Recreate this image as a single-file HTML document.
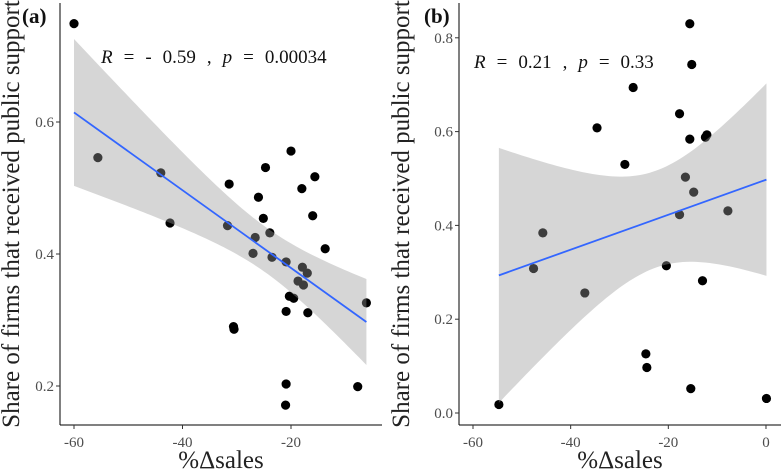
<!DOCTYPE html>
<html><head><meta charset="utf-8"><style>
body{margin:0;background:#fff}
svg text{font-family:"Liberation Serif",serif}
</style></head><body>
<svg id="c" width="781" height="471" viewBox="0 0 781 471" xmlns="http://www.w3.org/2000/svg"></svg>
<script>
const xa=[-60,-55.6,-44.0,-42.3,-31.4,-31.7,-30.6,-30.5,-24.7,-26.0,-25.1,-26.6,-27.0,-23.9,-23.5,-20.0,-20.9,-20.3,-19.5,-20.9,-20.9,-21.0,-18.0,-15.6,-16.0,-17.9,-17.0,-18.7,-17.7,-16.9,-13.7,-7.7,-6.1];
const ya=[0.749,0.546,0.523,0.447,0.506,0.443,0.290,0.286,0.531,0.486,0.454,0.425,0.401,0.432,0.395,0.556,0.388,0.336,0.333,0.313,0.203,0.171,0.499,0.517,0.458,0.380,0.371,0.359,0.353,0.311,0.408,0.199,0.326];
const xb=[-15.6,-15.2,-27.2,-17.7,-34.6,-15.6,-12.1,-12.4,-28.9,-16.5,-14.8,-17.7,-7.8,-45.7,-47.6,-37.1,-20.4,-13.0,-24.6,-24.4,-15.4,-54.7,0.1];
const yb=[0.830,0.743,0.694,0.638,0.608,0.584,0.593,0.588,0.530,0.503,0.471,0.423,0.431,0.384,0.308,0.256,0.314,0.282,0.126,0.097,0.052,0.018,0.031];
const xTicksA=[-60,-40,-20], yTicksA=[0.2,0.4,0.6];
const xTicksB=[-60,-40,-20,0], yTicksB=[0.0,0.2,0.4,0.6,0.8];
const labelA="R = - 0.59 , p = 0.00034", labelB="R = 0.21 , p = 0.33";
const NS="http://www.w3.org/2000/svg", svg=document.getElementById('c');
function mk(t,a,p){const e=document.createElementNS(NS,t);for(const k in a)e.setAttribute(k,a[k]);(p||svg).appendChild(e);return e;}
function panel(o){
  const g=mk('g',{});
  
  
  const X=v=>o.x0+(v-o.xv0)*o.kx, Y=v=>o.y0-(v-o.yv0)*o.ky;
  const xs=o.xs, ys=o.ys, n=xs.length;
  xs.forEach((v,i)=>{const c=mk('circle',{cx:X(v),cy:Y(ys[i]),r:4.6,fill:'#000'},g);
    
    });
  const mx=xs.reduce((a,b)=>a+b)/n, my=ys.reduce((a,b)=>a+b)/n;
  let sxx=0,sxy=0;xs.forEach((v,i)=>{sxx+=(v-mx)**2;sxy+=(v-mx)*(ys[i]-my);});
  const b=sxy/sxx,a=my-b*mx;let sse=0;xs.forEach((v,i)=>{sse+=(ys[i]-a-b*v)**2;});
  const s=Math.sqrt(sse/(n-2)), t=o.t;
  const lo=Math.min(...xs), hi=Math.max(...xs);
  let up=[],dn=[];
  for(let k=0;k<=80;k++){const v=lo+(hi-lo)*k/80, f=a+b*v, h=t*s*Math.sqrt(1/n+(v-mx)**2/sxx);
    up.push(X(v)+','+Y(f+h));dn.unshift(X(v)+','+Y(f-h));}
  const band=mk('polygon',{points:up.concat(dn).join(' '),fill:'#999',"fill-opacity":0.4},g);
  
  
  const ln=mk('line',{x1:X(lo),y1:Y(a+b*lo),x2:X(hi),y2:Y(a+b*hi),stroke:'#3366FF','stroke-width':1.8},g);
  
  
  const ax=mk('line',{x1:o.left,y1:3,x2:o.left,y2:425,stroke:'#000','stroke-width':1},g);
  
  
  const bx=mk('line',{x1:o.left,y1:425,x2:o.right,y2:425,stroke:'#000','stroke-width':1},g);
  
  
  o.xt.forEach(v=>{mk('line',{x1:X(v),y1:425,x2:X(v),y2:429,stroke:'#333'},g);
    const tx=mk('text',{x:X(v),y:447,'text-anchor':'middle','font-size':15,fill:'#4d4d4d'},g);tx.textContent=v;
    
    });
  o.yt.forEach(v=>{mk('line',{x1:o.left-4,y1:Y(v),x2:o.left,y2:Y(v),stroke:'#333'},g);
    const tx=mk('text',{x:o.left-6,y:Y(v)+5,'text-anchor':'end','font-size':15,fill:'#4d4d4d'},g);tx.textContent=v.toFixed(1);
    
    });
  const xt=mk('text',{x:(o.left+o.right)/2,y:468,'text-anchor':'middle','font-size':25,fill:'#222'},g);xt.textContent='%Δsales';
  
  
  const yt=mk('text',{x:0,y:0,'text-anchor':'middle','font-size':25,fill:'#222',transform:`translate(${o.ytx},214) rotate(-90)`},g);yt.textContent='Share of firms that received public support';
  
  
  const pl=mk('text',{x:o.plx,y:23,'font-size':21,'font-weight':'bold',fill:'#111'},g);pl.textContent='('+o.id+')';
  
  
  const an=mk('text',{x:o.anx,y:o.any,'font-size':19,fill:'#111','xml:space':'preserve'},g);
  
  
  const parts=o.lab.split(' ');
  parts.forEach((w,i)=>{const ts=mk('tspan',{dx:i?11:0},an);ts.textContent=w;if(w==='R'||w==='p')ts.setAttribute('font-style','italic');});
}
panel({id:'a',xs:xa,ys:ya,x0:74,xv0:-60,kx:5.425,y0:122,yv0:0.6,ky:660,t:2.042,left:60,right:382,xt:xTicksA,yt:yTicksA,ytx:19,plx:22,anx:101,any:63,lab:labelA});
panel({id:'b',xs:xb,ys:yb,x0:473,xv0:-60,kx:4.883,y0:413,yv0:0,ky:469,t:2.080,left:459,right:781,xt:xTicksB,yt:yTicksB,ytx:409,plx:424,anx:474,any:68,lab:labelB});
</script>
</body></html>
